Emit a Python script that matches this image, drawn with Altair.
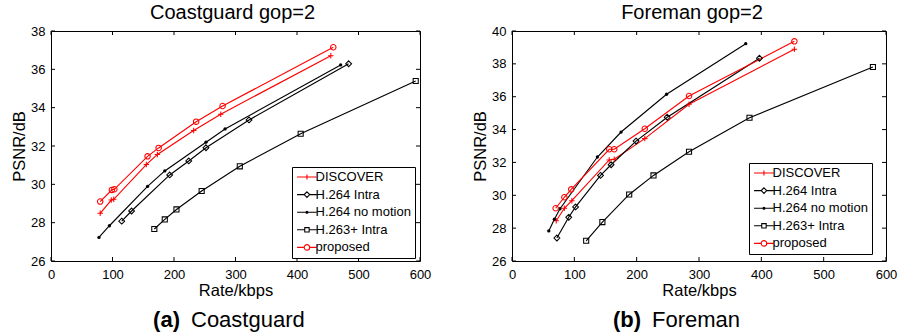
import altair as alt
import pandas as pd

series = ["DISCOVER", "H.264 Intra", "H.264 no motion", "H.263+ Intra", "proposed"]
series_colors = ["#ff0000", "#000000", "#000000", "#000000", "#ff0000"]
marker_shapes = ["M-1,0H1M0,-1V1", "M0,-1L1,0L0,1L-1,0Z", "circle", "square", "circle"]
marker_filled = [False, False, True, False, False]
marker_sizes = [30, 34, 11, 26, 30]

# ---- Coastguard gop=2 ----
cg_discover_rate = [80, 98, 102, 155, 173, 232, 276, 455]
cg_discover_psnr = [28.49, 29.18, 29.22, 31.03, 31.56, 32.81, 33.66, 36.71]
cg_intra_rate = [115, 131, 193, 224, 252, 322, 484]
cg_intra_psnr = [28.08, 28.61, 30.49, 31.22, 31.91, 33.36, 36.29]
cg_nomotion_rate = [78, 95, 157, 185, 252, 283, 471]
cg_nomotion_psnr = [27.23, 27.84, 29.89, 30.70, 32.20, 32.89, 36.23]
cg_h263_rate = [168, 185, 204, 245, 307, 406, 593]
cg_h263_psnr = [27.67, 28.17, 28.69, 29.65, 30.94, 32.64, 35.39]
cg_proposed_rate = [80, 99, 103, 157, 175, 236, 279, 459]
cg_proposed_psnr = [29.10, 29.71, 29.74, 31.46, 31.90, 33.27, 34.09, 37.15]

# ---- Foreman gop=2 ----
fm_discover_rate = [71, 84, 96, 156, 164, 213, 284, 453]
fm_discover_psnr = [28.45, 29.21, 29.67, 32.15, 32.19, 33.45, 35.54, 38.89]
fm_intra_rate = [72, 91, 102, 142, 159, 199, 249, 397]
fm_intra_psnr = [27.40, 28.66, 29.29, 31.21, 31.86, 33.30, 34.75, 38.34]
fm_nomotion_rate = [59, 68, 77, 137, 175, 248, 375]
fm_nomotion_psnr = [27.83, 28.54, 29.18, 32.33, 33.85, 36.15, 39.23]
fm_h263_rate = [119, 145, 188, 227, 284, 381, 579]
fm_h263_psnr = [27.23, 28.37, 30.05, 31.21, 32.65, 34.72, 37.81]
fm_proposed_rate = [70, 84, 95, 156, 164, 213, 284, 453]
fm_proposed_psnr = [29.21, 29.88, 30.36, 32.80, 32.80, 34.05, 36.04, 39.37]

x_ticks = [0, 100, 200, 300, 400, 500, 600]
cg_y_ticks = [26, 28, 30, 32, 34, 36, 38]
fm_y_ticks = [26, 28, 30, 32, 34, 36, 38, 40]

FONT = "Liberation Sans"
H = 230


def build_df(pairs):
    rows = []
    for name, (rates, psnrs) in zip(series, pairs):
        for i, (r, p) in enumerate(zip(rates, psnrs)):
            rows.append({"series": name, "rate": r, "psnr": p, "order": i})
    return pd.DataFrame(rows)


def shape_expr():
    # legend glyphs: a short line with the series marker in its middle
    # (unit = 5.5 px; symbol centre sits 5.5 px from the legend's inner left edge)
    paths = {
        "DISCOVER": "M-0.9,0H2.7M0.9,-0.45V0.45",
        "H.264 Intra": "M-0.9,0H0.4M1.4,0H2.7M0.9,-0.5L1.4,0L0.9,0.5L0.4,0Z",
        "H.264 no motion": "M-0.9,0H2.7M0.72,0A0.18,0.18 0 1,0 1.08,0A0.18,0.18 0 1,0 0.72,0",
        "H.263+ Intra": "M-0.9,0H0.5M1.3,0H2.7M0.5,-0.4H1.3V0.4H0.5Z",
        "proposed": "M-0.9,0H0.4M1.4,0H2.7M0.4,0A0.5,0.5 0 1,0 1.4,0A0.5,0.5 0 1,0 0.4,0",
    }
    expr = "'M-0.9,0H2.7'"
    for k in reversed(series):
        expr = f"datum.value === '{k}' ? '{paths[k]}' : ({expr})"
    return expr


def fill_expr():
    return "datum.value === 'H.264 no motion' ? '#000000' : 'transparent'"


def panel(df, title, y_dom, y_ticks, width, legend_xy, cap_letter, cap_word, title_dx):
    color_scale = alt.Scale(domain=series, range=series_colors)
    xs = alt.Scale(domain=[0, 600], nice=False)
    ys = alt.Scale(domain=y_dom, nice=False)
    common_axis = dict(labelFlush=False, labelOverlap=False, ticks=False, tickSize=0,
                       domain=False, grid=False, labelFontSize=13, titleFontSize=16.5,
                       labelFont=FONT, titleFont=FONT, titleFontWeight="normal",
                       labelColor="black", titleColor="black", format="d")
    x_axis = alt.Axis(values=x_ticks, labelPadding=7, titlePadding=1, title="Rate/kbps", **common_axis)
    y_axis = alt.Axis(values=y_ticks, labelPadding=6, titlePadding=3, title="PSNR/dB", **common_axis)
    X = lambda f: alt.X(f, scale=xs, axis=x_axis)
    Y = lambda f: alt.Y(f, scale=ys, axis=y_axis)
    legend = alt.Legend(
        title=None, orient="none", legendX=legend_xy[0], legendY=legend_xy[1],
        strokeColor="black", fillColor="white", padding=3.5, rowPadding=3.6,
        symbolSize=121, symbolStrokeWidth=1.1, labelFontSize=13, labelFont=FONT,
        labelOffset=7, labelColor="black", cornerRadius=0,
        symbolType={"expr": shape_expr()},
        symbolFillColor={"expr": fill_expr()},
    )
    base = alt.Chart(df)
    lines = base.mark_line(strokeWidth=1.15).encode(
        x=X("rate:Q"),
        y=Y("psnr:Q"),
        color=alt.Color("series:N", scale=color_scale, legend=legend, sort=series),
        detail="series:N",
        order="order:Q",
    )
    point_layers = []
    for name, col, shp, fil, sz in zip(series, series_colors, marker_shapes, marker_filled, marker_sizes):
        point_layers.append(
            base.transform_filter(alt.datum.series == name).mark_point(
                shape=shp, color=col, filled=fil, size=sz, opacity=1, strokeWidth=1.05
            ).encode(x=X("rate:Q"), y=Y("psnr:Q"))
        )
    xt = pd.DataFrame({"v": x_ticks})
    yt = pd.DataFrame({"v": y_ticks})
    tick_style = dict(color="black", strokeWidth=1)
    t_bottom = alt.Chart(xt).mark_rule(**tick_style).encode(
        x=X("v:Q"), y=alt.value(H), y2=alt.value(H - 4))
    t_top = alt.Chart(xt).mark_rule(**tick_style).encode(
        x=X("v:Q"), y=alt.value(0), y2=alt.value(4))
    t_left = alt.Chart(yt).mark_rule(**tick_style).encode(
        y=Y("v:Q"), x=alt.value(0), x2=alt.value(4))
    t_right = alt.Chart(yt).mark_rule(**tick_style).encode(
        y=Y("v:Q"), x=alt.value(width), x2=alt.value(width - 4))
    cap_a = alt.Chart(pd.DataFrame({"t": [cap_letter]})).mark_text(
        font=FONT, fontSize=22, fontWeight="bold", align="right", baseline="middle", color="black"
    ).encode(text="t:N", x=alt.value(129), y=alt.value(H + 59))
    cap_b = alt.Chart(pd.DataFrame({"t": [cap_word]})).mark_text(
        font=FONT, fontSize=22, fontWeight="normal", align="left", baseline="middle", color="black"
    ).encode(text="t:N", x=alt.value(140), y=alt.value(H + 59))
    return alt.layer(lines, t_bottom, t_top, t_left, t_right, *point_layers, cap_a, cap_b).properties(
        width=width, height=H,
        title=alt.TitleParams(text=title, fontSize=20, font=FONT, fontWeight="normal",
                              anchor="middle", frame="group", offset=2, color="black", dx=title_dx),
    )


cg_df = build_df([
    (cg_discover_rate, cg_discover_psnr),
    (cg_intra_rate, cg_intra_psnr),
    (cg_nomotion_rate, cg_nomotion_psnr),
    (cg_h263_rate, cg_h263_psnr),
    (cg_proposed_rate, cg_proposed_psnr),
])
fm_df = build_df([
    (fm_discover_rate, fm_discover_psnr),
    (fm_intra_rate, fm_intra_psnr),
    (fm_nomotion_rate, fm_nomotion_psnr),
    (fm_h263_rate, fm_h263_psnr),
    (fm_proposed_rate, fm_proposed_psnr),
])

left = panel(cg_df, "Coastguard gop=2", [26, 38], cg_y_ticks, 369, (241, 136), "(a)", "Coastguard", -3)
right = panel(fm_df, "Foreman gop=2", [26, 40], fm_y_ticks, 374, (237, 132), "(b)", "Foreman", -7)

chart = alt.hconcat(left, right, spacing=40).resolve_scale(
    color="independent", x="independent", y="independent"
).properties(
    padding={"left": 11, "top": 2, "right": 0, "bottom": 0},
    background="white",
).configure_view(stroke="black", strokeWidth=1)

chart.save("out.html", embed_options={"renderer": "svg", "actions": False})
